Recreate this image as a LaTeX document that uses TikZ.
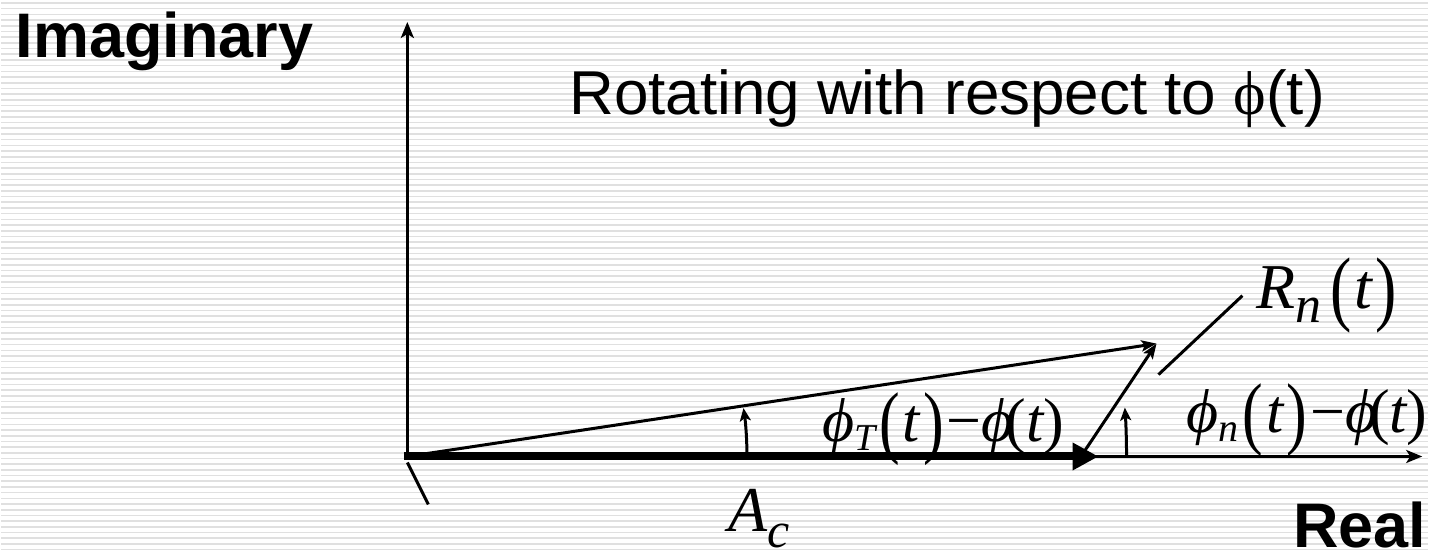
\documentclass[tikz,border=0pt]{standalone}
\usepackage{fontspec}
\setmainfont{Liberation Serif}
\newfontfamily\arialfont{Liberation Sans}
\usetikzlibrary{arrows.meta}

\newcommand{\tpo}{{\upshape\raisebox{-7pt}{\scalebox{1}[1.3]{(}}}}
\newcommand{\tpc}{{\upshape\raisebox{-7pt}{\scalebox{1}[1.3]{)}}}}

\begin{document}
\begin{tikzpicture}[x=1pt, y=-1pt, every node/.style={inner sep=0pt}]
    \tikzstyle{axis} = [line width=3pt, -{Stealth[length=16pt, width=13pt, inset=4pt]}]
    \tikzstyle{phasor} = [line width=3pt, -{Stealth[length=15pt, width=11pt, inset=3pt]}]
    \tikzstyle{carrier} = [line width=8pt, -{Triangle[length=26pt, width=26pt]}]
    \tikzstyle{anglearc} = [line width=3pt, -{Stealth[length=13pt, width=11pt, inset=3pt]}]
    \tikzstyle{axislabel} = [font=\arialfont\bfseries\fontsize{63}{70}\selectfont, anchor=base west]
    \tikzstyle{mathlabel} = [font=\fontsize{62}{70}\selectfont\itshape, anchor=base west]

    % striped background
    \fill[white] (0,0) rectangle (1429,553);
    \foreach \y in {3,8.7,...,553}
        \draw[black!12, line width=1.6pt] (0,\y) -- (1429,\y);
    \useasboundingbox (0,0) rectangle (1429,553);

    \coordinate (origin) at (407,457);
    \coordinate (imtip) at (407,22);
    \coordinate (retip) at (1423,457);
    \coordinate (acstart) at (404,457);
    \coordinate (actip) at (1099,457);
    \coordinate (rnbase) at (1082,456);
    \coordinate (restip) at (1157,344);
    \coordinate (leadA) at (1159,375);
    \coordinate (leadB) at (1243,296);
    \coordinate (tickA) at (407,463);
    \coordinate (tickB) at (428,505);
    \coordinate (arcT) at (747,457);
    \coordinate (arcN) at (1127,457);

    % axes
    \draw[axis] (origin) -- (imtip);
    \draw[axis] (origin) -- (retip);
    \draw[line width=3pt] (tickA) -- (tickB);

    % phasors
    \draw[carrier] (acstart) -- (actip);
    \draw[phasor] (origin) -- (restip);
    \draw[phasor] (rnbase) -- (restip);
    \draw[line width=3pt] (leadA) -- (leadB);

    % angles
    \draw[anglearc] (arcT) arc[start angle=0, end angle=-8.2, radius=340];
    \draw[anglearc] (arcN) arc[start angle=0, end angle=-3.9, radius=720];

    % labels
    \node[axislabel] (imag) at (15,58) {Imaginary};
    \node[font=\arialfont\fontsize{62}{70}\selectfont, anchor=base west] (title) at (569,115) {Rotating with respect to {\rmfamily\upshape ϕ}(t)};
    \node[axislabel] (real) at (1294,548) {Real};
    \node[mathlabel, font=\fontsize{64}{70}\selectfont\itshape] (aclabel) at (728,532) {A\raisebox{-16pt}{\fontsize{50}{50}\selectfont c}};
    \node[mathlabel, font=\fontsize{64}{70}\selectfont\itshape] (rnlabel) at (1257,309) {R\raisebox{-14pt}{\fontsize{52}{52}\selectfont n}\hspace{9pt}\tpo\hspace{3pt}t\hspace{3pt}\tpc};
    \node[mathlabel] (phiTlabel) at (822,442) {ϕ\raisebox{-9pt}{\fontsize{38}{38}\selectfont T}\hspace{4pt}\tpo\hspace{3pt}t\hspace{3pt}\tpc\hspace{3pt}{\upshape −}ϕ\hspace{-8pt}{\upshape(}t{\upshape)}};
    \node[mathlabel] (phiNlabel) at (1187,433) {ϕ\raisebox{-9pt}{\fontsize{40}{40}\selectfont n}\hspace{4pt}\tpo\hspace{3pt}t\hspace{3pt}\tpc\hspace{3pt}{\upshape −}ϕ\hspace{-8pt}{\upshape(}t{\upshape)}};
\end{tikzpicture}
\end{document}
